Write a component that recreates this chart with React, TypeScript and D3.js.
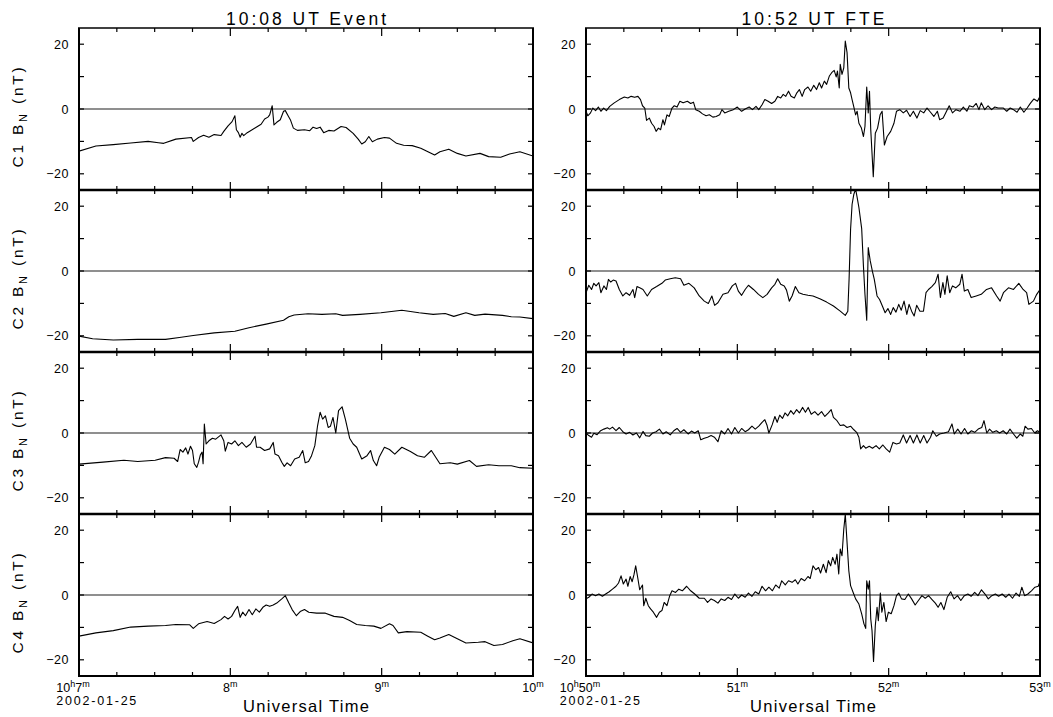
import { useEffect, useRef } from 'react';
import * as d3 from 'd3';

type Pt = [number, number];

// B_N (nT) against seconds after 10:07:00 UT
const c1Event: Pt[] = [
  [0, -13], [6.7, -11.4], [13.6, -11], [20.5, -10.5], [27.4, -10], [31.5, -10.4], [33.6, -10.6],
  [38.4, -9.3], [44.6, -8.8], [45.3, -10], [47.4, -8.8], [49.4, -8.1], [51.5, -8.7], [53.6, -7.9],
  [56.3, -8.2], [57.4, -6.9], [59.1, -5.2], [60.7, -3.9], [61.8, -2.1], [62.4, -6.4], [63.2, -7.3],
  [63.9, -8.7], [64.6, -7.5], [65.3, -8.2], [66.7, -7.3], [68, -6.7], [70.1, -5.7], [72.2, -4.7],
  [73.6, -3.1], [74.9, -2.5], [75.6, -1.8], [76.6, 1], [77.3, -4.9], [78.4, -4.1], [79.8, -3.3],
  [81.1, -0.7], [81.8, -0.5], [82.9, -2.1], [83.9, -3.5], [85, -5.9], [86.6, -6.6], [89.4, -6.4],
  [91.5, -6.7], [92.8, -5.6], [94.2, -6], [95.6, -5.6], [97, -7.3], [99, -6.6], [101.1, -6.8],
  [103.9, -5.4], [105.9, -5.7], [108.7, -7.5], [110.7, -9.3], [112.1, -10.8], [113.5, -10.1],
  [114.9, -8.5], [116.3, -10.1], [118.3, -9.3], [121.1, -8.8], [123.1, -9], [125.9, -10.6],
  [128.7, -11.2], [132.1, -11.3], [135.5, -12.1], [141, -14.2], [143.1, -13.2], [146.6, -12.4],
  [150, -13.7], [153.4, -14.5], [159, -13.7], [162.4, -14.7], [167.2, -14.9], [170.7, -13.9],
  [174.8, -13.2], [180, -14.5],
];

const c2Event: Pt[] = [
  [0, -20.1], [5.4, -20.9], [13.6, -21.3], [23.3, -21.1], [34.3, -21.1], [39.8, -20.5], [45.3, -19.9],
  [53.6, -19.1], [61.8, -18.6], [67.4, -17.5], [74.2, -16.4], [81.1, -15.2], [83.2, -14.1],
  [85.3, -13.6], [90.8, -13.2], [96.3, -13.4], [101.8, -13.2], [104.5, -13.7], [111.4, -13.4],
  [119.7, -12.9], [128, -12.1], [134.8, -12.9], [140.4, -13.4], [145.2, -13.1], [148.6, -14],
  [153.4, -12.9], [156.9, -13.7], [161, -13.3], [167.9, -13.7], [171.4, -14.1], [174.8, -14.2],
  [180, -14.7],
];

const c3Event: Pt[] = [
  [0, -9.6], [9.5, -9], [17.8, -8.4], [23.3, -8.8], [30.2, -8.4], [34.3, -7.6], [37.7, -7.8],
  [39.1, -8.8], [40.1, -5.1], [41.2, -5.9], [42.3, -4.6], [43.2, -6.5], [44.2, -4.1], [45, -5.4],
  [45.7, -9.5], [46.7, -10.6], [47.4, -9], [48.1, -6.8], [48.8, -5.9], [49.2, -9.5], [49.7, 2.8],
  [50.4, -3.4], [51.5, -2.4], [52.9, -1.6], [54.2, -1.9], [56.3, -0.6], [57.4, -2.4], [58, -5.6],
  [59.1, -2.9], [60.5, -3.4], [61.8, -2.4], [63.2, -3.9], [64.6, -2.9], [66.3, -4.4], [68, -3.4],
  [69.8, -1], [70.4, -4.4], [71.8, -4.4], [73.6, -5.4], [75.6, -4.9], [77, -2.9], [77.7, -6.5],
  [79.1, -7], [80.4, -9], [81.4, -10.3], [82.5, -9.2], [83.9, -10.1], [85.5, -8], [87.3, -7.5],
  [88.7, -5.4], [89.7, -9.2], [91, -8.8], [92.1, -7.2], [93.5, -3.9], [94.6, 2.3], [95.6, 6.4],
  [96.6, 4.3], [97.7, 5.3], [98.8, 1.7], [99.7, 2.1], [100.7, 4.8], [101.8, 0], [102.9, 6.9],
  [104.3, 8.1], [105.6, 4.3], [107.3, -1.6], [108.7, -3.4], [110.1, -4.4], [112.1, -8], [114.2, -7],
  [115.6, -5.4], [116.7, -8.5], [118, -10.1], [119, -7.5], [121.1, -4.4], [123.1, -5.1],
  [125.2, -6.5], [128, -4.4], [131.4, -5.7], [134.2, -7], [136.9, -7.5], [139.7, -5.4],
  [143.1, -9.5], [147.2, -9.2], [150, -9.6], [154.8, -8.5], [157.6, -10.3], [162.4, -9.8],
  [166.5, -10.1], [171.4, -10.1], [174.8, -10.7], [180, -10.9],
];

const c4Event: Pt[] = [
  [0, -12.7], [6.7, -11.7], [13.6, -11], [20.5, -9.9], [27.4, -9.6], [34.3, -9.4], [38.4, -9.1],
  [43.9, -9.2], [45.3, -10.3], [47.4, -8.9], [50.8, -8.2], [53.6, -8.8], [56.3, -7.6], [57.7, -6.6],
  [59.1, -7.4], [60.5, -6.6], [61.8, -4.8], [62.9, -3.5], [63.9, -6.9], [64.9, -5.3], [66, -6.4],
  [67.4, -4.5], [68.7, -6.1], [70.1, -4.3], [71.5, -5.3], [72.9, -3.8], [74.2, -3.1], [75.6, -3.5],
  [77, -3.1], [78.4, -2.5], [80.4, -1.2], [81.8, -0.2], [83.2, -2.5], [84.5, -4.5], [86.2, -6.4],
  [87.7, -5.1], [89.4, -4.5], [91.1, -5.3], [94.2, -5.6], [97.7, -5.6], [101.1, -6.6], [104.5, -6.9],
  [107.3, -7.9], [110.1, -9.1], [113.5, -9.4], [116.9, -9.6], [119.7, -10.3], [123.1, -8.9],
  [124.5, -9.4], [126.6, -11.7], [130, -11.3], [135.5, -11.5], [138.3, -12.7], [141, -13.8],
  [143.1, -13.3], [146.6, -12.2], [150, -13.5], [153.4, -14.8], [158.3, -14.6], [161, -14.4],
  [164.5, -15.6], [167.9, -15.3], [172, -14.1], [174.8, -13.5], [180, -14.8],
];

// B_N (nT) against seconds after 10:50:00 UT
const c1Fte: Pt[] = [
  [0, -0.7], [0.7, -2.1], [1.8, -1.2], [2.7, 0.3], [3.8, -0.5], [4.9, 0.6], [5.9, -0.7], [7, 0.3],
  [8.1, -0.5], [9.4, 0.8], [11.2, 1.9], [13.2, 2.9], [15.2, 3.7], [16.6, 3.4], [17.9, 3.9],
  [19.3, 3.6], [20.6, 3.9], [21.6, 2.9], [22.4, 1], [23.3, 0.3], [24, -3.5], [25.1, -2.8],
  [26, -4.4], [27, -5.4], [27.8, -6.9], [28.7, -5.9], [29.6, -6.4], [30.5, -3.3], [31.1, -4.9],
  [32.1, -1.8], [33, -2.3], [34.1, 0.3], [35, 1], [36.1, 0.6], [37.2, 2.4], [38.5, 1.9], [40.2, 2.4],
  [41.5, 1.7], [42.6, 2.1], [43.5, -0.2], [44.9, -0.7], [46.2, -1.5], [47.6, -2.1], [48.9, -1.8],
  [50.3, -2.5], [51.6, -2.3], [53, -1.8], [53.9, -0.2], [55, -1.2], [56.6, -0.7], [58.4, -0.2],
  [60, 0.6], [61.7, -0.7], [63.1, 0], [64.7, 0.6], [66, -0.2], [67.4, 0.8], [68.5, -0.2], [69.8, 1.3],
  [70.9, 2.9], [72.2, 2.4], [73.6, 1.7], [74.9, 2.4], [76, 3.9], [77.2, 3.4], [78.2, 4.5], [79.2, 3.9],
  [80.3, 5.5], [81.3, 3.9], [82.6, 3.4], [83.6, 5], [84.6, 6], [85.7, 3.9], [86.7, 6], [88, 6.8],
  [89.1, 5.5], [90.3, 7.3], [91.4, 6], [92.5, 8.1], [93.4, 6.5], [94.5, 8.6], [95.4, 7.6],
  [96.5, 10.2], [97.4, 11.2], [98.4, 11.9], [99.2, 9.9], [99.7, 11.7], [100.4, 6.5], [100.8, 13.8],
  [101.5, 10.7], [102.2, 12.7], [102.8, 21], [103.5, 17.4], [104.2, 6.5], [104.9, 5], [105.5, 2.9],
  [106.2, 0.6], [106.9, -1.8], [107.5, -0.7], [108.2, -4.4], [109.2, -5.9], [110, -8.5],
  [110.6, -5.4], [111.3, 6.8], [111.9, -1.2], [112.4, 5.5], [112.9, -6.4], [113.9, -20.9],
  [114.7, -7.5], [115.6, -5.9], [116.6, -1.8], [117.4, -0.7], [118.3, -11.1], [119.4, -8.5],
  [120.8, -6.9], [122.1, -4.4], [123.1, -0.7], [124.4, -0.2], [125.8, -1.2], [127.1, -0.4],
  [128.5, -2.3], [129.8, -0.7], [131.2, -2.8], [132.5, -0.5], [133.9, -1.2], [135.2, 0.3],
  [136.6, -1], [137.9, -2.3], [139.3, -0.7], [140.2, -3.3], [141.6, -2.8], [142.6, -1.2], [144, 1],
  [145.3, -1.2], [146.7, -0.2], [148.3, -0.7], [149.6, 0.6], [151, -0.7], [152, 1], [153.4, 0.6],
  [154.7, 1.7], [155.8, -0.2], [156.7, 1.9], [158.1, -0.2], [159.4, 1], [160.8, -0.2], [162.1, 0.6],
  [163.4, 0.3], [165.5, 0.3], [166.8, -0.7], [168.2, 0.3], [169.5, -0.2], [170.9, -1], [172.2, 0.6],
  [173.6, -1], [174.9, 0.3], [176.3, 1.9], [177.6, 3.1], [179, 2.4], [180, 3.9],
];

const c2Fte: Pt[] = [
  [0, -6.7], [1.1, -4.4], [2.2, -5.7], [3.1, -3.8], [4, -4.6], [5.1, -3.6], [5.9, -6.7], [7.1, -4.6],
  [8.1, -5.7], [8.9, -2.6], [9.8, -3.4], [10.8, -2.8], [11.9, -3.1], [13.2, -5.7], [14.6, -7.7],
  [15.9, -6.7], [17.3, -7.5], [18.6, -5.7], [19.3, -8.2], [20.2, -4.8], [21.3, -5.2], [22.6, -5.7],
  [24.3, -7.7], [26, -5.7], [28, -4.8], [30.1, -3.8], [31.4, -2.8], [33.4, -2.4], [35.4, -2.1],
  [37.5, -2.4], [38.8, -4.4], [40.8, -3.8], [42.9, -5.2], [44.9, -7.7], [46.9, -9.3], [48.5, -10],
  [49.9, -7.7], [51, -10.6], [52.3, -9.8], [54.3, -7.2], [56.3, -6.7], [58, -4.6], [59.3, -3.8],
  [60.4, -6.2], [61.7, -7.5], [63.1, -5.7], [64.4, -4.4], [66.4, -5.7], [68.4, -7.2], [70.1, -8.2],
  [71.8, -7.2], [73.6, -5.2], [74.9, -4.1], [76, -2.4], [77.2, -4.1], [78.6, -4.6], [79.5, -5.9],
  [80.6, -9.3], [81.7, -7.7], [83, -4.8], [84.4, -6.7], [86, -7.2], [88, -7.5], [90, -7.7],
  [92.7, -8.6], [95.4, -9.6], [98.1, -10.8], [100.8, -12.4], [102.8, -13.7], [103.8, -12.4],
  [104.3, -2.6], [104.9, 12.9], [105.5, 20.6], [106.2, 23.7], [106.9, 25.3], [107.5, 22.7],
  [108.2, 19.6], [109.3, 13.1], [110, 1.5], [110.6, -7.2], [111.3, -15.2], [111.9, 7.2], [112.7, 3.1],
  [113.6, -0.3], [114.3, -2.6], [115.4, -7.7], [116.4, -8.8], [117.5, -10.8], [118.6, -12.9],
  [119.7, -11.6], [120.8, -13.4], [121.8, -11.3], [122.9, -12.7], [124, -10.3], [125, -12.1],
  [126.1, -9.3], [127.2, -13.4], [128.1, -10.3], [129.1, -12.4], [130.1, -13.9], [131.1, -10.6],
  [132.4, -12.4], [133.8, -12.4], [134.8, -6.7], [135.8, -5.7], [137.1, -4.8], [138.5, -3.6],
  [139.6, -1], [140.5, -8.2], [141.5, -3.6], [142.3, -7.2], [143.2, -1.5], [144.2, -6.7],
  [145.3, -4.6], [146.6, -5.2], [148.2, -4.1], [149.1, -1], [150, -6.2], [151.4, -5.7], [152.7, -8.2],
  [154.7, -7.7], [156.7, -7.2], [158.8, -5.7], [160.8, -5.2], [162.8, -7.7], [164.2, -9.3],
  [165.5, -6.7], [167.5, -5.2], [169.5, -5.7], [171.6, -3.8], [173.3, -5.7], [174.7, -6.7],
  [175.6, -10.3], [177.4, -9.3], [178.7, -7.2], [180, -5.7],
];

const c3Fte: Pt[] = [
  [0, 0], [1.1, -0.8], [2.2, -1.3], [3.1, -0.1], [4.4, -0.5], [5.8, 0.7], [7.1, 1.2], [8.5, 1.6],
  [9.4, 1.2], [10.5, 1.8], [11.9, 0.7], [13.2, 1.7], [14.6, 0.4], [15.9, -0.3], [17.3, 0.2],
  [18.6, -0.6], [20, 0], [21.3, -1.5], [22.6, 0.5], [23.7, -0.8], [25.1, -1], [26.4, 0], [27.8, 0.4],
  [29.1, 1.2], [30.5, -0.3], [31.8, 0.4], [33.4, -0.6], [34.8, 0.7], [36.1, 1.4], [37.5, 0.2],
  [38.8, 1], [40.5, -0.3], [41.8, 0.6], [43.1, 0], [44.5, 0.7], [45.5, -2.1], [46.9, -1.6],
  [48.2, -1.3], [49.6, -0.8], [50.9, -1.3], [52.3, -2.7], [53.6, 0.7], [55, -0.3], [56.3, 1.4],
  [57.7, -0.3], [59, 1.7], [60.4, 0], [61.7, 1.4], [63.1, 0.4], [64.4, 1], [65.8, 2.1], [67.1, 1.2],
  [68.5, 2.1], [69.8, 3.3], [70.9, 4.1], [71.8, 2.3], [72.5, 0], [73.8, 2.5], [74.9, 5.1], [75.8, 3.3],
  [76.8, 5.5], [77.9, 4.5], [78.9, 6.2], [80, 5.3], [81.2, 6.9], [82.3, 5.8], [83.5, 7.2], [84.6, 6.2],
  [85.9, 7.9], [87, 6.4], [88.1, 7.9], [89.3, 5.8], [90.7, 6.6], [92, 5.5], [93.4, 6.6], [94.7, 5.1],
  [96.1, 6.2], [97.2, 7.2], [98.1, 4.8], [99.5, 3.8], [100.8, 2.3], [102.2, 2.5], [103.5, 1.7],
  [104.9, 2.1], [106.2, 1], [107.3, 0.2], [108.2, -1.3], [108.9, -4.9], [110, -3.9], [110.9, -4.7],
  [112.3, -4.1], [113.6, -4.7], [115, -3.9], [116.3, -4.9], [117.7, -3.7], [119, -4.9], [120.4, -5.9],
  [121.7, -2.9], [123.1, -3.4], [124.4, -3.1], [125.8, -0.6], [127.1, -3.1], [128.5, -0.8],
  [129.8, -3.1], [131.2, -0.6], [132.5, -3.1], [133.9, -0.8], [135.2, -3.1], [136.6, -1.3],
  [137.5, 0.7], [138.9, -1], [140.2, -0.3], [142, 0], [143.7, 0.4], [145.1, 2.8], [146, -0.3],
  [147.4, 1.2], [148.7, -0.3], [150.1, 1.4], [151.4, -0.3], [152.8, 0.7], [154.1, 0.2], [155.5, 1.2],
  [156.9, 1.7], [157.8, 3.8], [158.9, 0], [160, 1.2], [161.3, 0.2], [162.7, 0.7], [164, 0],
  [165.4, 0.7], [166.8, -0.3], [168.1, 1.2], [169.5, -0.3], [170.8, -1.6], [172.2, -0.3], [173.2, -1],
  [174.1, 2.1], [175.2, 1.2], [176.6, 1.4], [177.9, 0], [179, 0.7], [180, 0.2],
];

const c4Fte: Pt[] = [
  [0, -1.2], [1.1, -0.7], [2.4, 0.3], [3.8, -0.2], [5.1, 0.3], [6.5, -0.4], [7.8, 0.3], [9.2, 1],
  [10.5, 1.8], [11.9, 2.7], [12.9, 3.7], [13.9, 5.9], [14.8, 3.4], [15.9, 4.9], [16.6, 2.7],
  [17.5, 5.7], [18.3, 4.1], [19, 6.2], [19.7, 9], [20.5, 5.4], [21.3, 1.6], [22.4, 3.1], [22.9, -3.3],
  [23.7, -1], [24.7, -3.3], [25.6, -4.3], [26.7, -5.3], [28, -6.9], [29.1, -5.3], [30.1, -4.8],
  [31, -2.3], [32.1, -3.3], [33.2, -0.2], [34.1, 1.3], [35.5, 0.8], [36.8, 1.8], [38.2, 1.3],
  [39.9, 2.7], [41.5, 1.3], [43.1, 0.3], [44.9, -1], [46.9, -1], [48.2, -2.3], [49.6, -1.2],
  [50.9, -1.7], [52.3, -2.5], [53.6, -1.2], [55, -1.7], [56.3, -0.7], [57.7, -1.4], [59, 0.3],
  [60.4, -1], [61.7, 0], [63.1, -0.7], [64.4, 0.6], [65.8, -0.4], [67.1, 1], [68.5, 0.3], [69.8, 2.7],
  [71.2, 1.3], [72.5, 2.4], [73.9, 1.3], [75.2, 3.1], [76.6, 2.1], [77.6, 4.4], [79, 3.1], [80.3, 4.4],
  [81.7, 3.9], [83, 4.7], [84, 3.4], [85.3, 5.1], [86.7, 4.4], [88, 5.7], [88.9, 5.1], [90, 9],
  [91.1, 7.8], [92.2, 8.5], [93, 6.8], [94.1, 9.5], [95.2, 6.9], [96.1, 10.6], [97, 9], [97.8, 11.6],
  [98.8, 9.5], [99.5, 12.6], [100.2, 6.5], [100.8, 14.2], [101.5, 12.1], [102.2, 20.3], [102.8, 24.9],
  [103.5, 16.2], [104.2, 7.5], [104.9, 2.9], [106, 0.6], [106.9, -1.2], [108.2, -2.8], [109.3, -5.8],
  [110.2, -8.9], [110.9, -10.3], [111.3, 4.4], [111.9, 1.8], [112.4, 4.4], [112.9, -7.4],
  [113.4, -11], [114, -20.5], [114.7, -9.4], [115.4, -3.8], [115.9, -7.9], [116.7, 0.6], [117.3, -5.3],
  [118.1, -2.3], [119, -8.2], [119.9, -5.3], [121, -5.8], [122.1, -3.3], [123.1, -0.2], [124, 0.6],
  [125.1, -1.2], [126.4, -1.4], [127.8, 0.3], [129.1, -1.2], [130.5, -3.1], [131.8, -1.7],
  [133.2, -0.2], [134.5, -1], [135.8, -0.2], [137.2, -1.4], [138.5, -2.5], [139.6, -3.8],
  [140.7, -2.3], [141.9, -4.5], [143.2, -0.7], [144.6, 1], [145.9, -1.2], [147.3, -0.2], [148.6, -1.7],
  [150, -0.2], [151.4, 0.3], [152.7, -0.4], [154.1, 0.8], [155.4, -0.2], [156.8, 1.6], [158.2, 0.3],
  [159.5, -1.2], [160.9, -0.2], [162.3, 0.3], [163.6, -0.4], [165, 0.3], [166.4, -0.7], [167.7, 0.3],
  [169.1, -1], [170.5, 0.6], [171.8, -0.4], [172.8, 2.4], [173.9, -0.2], [175.2, 0.3], [176.6, 1.3],
  [178, 2.4], [179.3, 2.7], [180, 4.1],
];

const spacecraft = ['C1', 'C2', 'C3', 'C4'];
const titles = ['10:08 UT Event', '10:52 UT FTE'];
const startHour = '10';
const eventMinutes = ['7', '8', '9', '10'];
const fteMinutes = ['50', '51', '52', '53'];
const dateLabel = '2002-01-25';
const xTitle = 'Universal Time';
const yTicks = [-20, -10, 0, 10, 20];
const yLabelTicks = [-20, 0, 20];

const FONT = "'Liberation Sans', Arial, Helvetica, sans-serif";

export default function App() {
  const ref = useRef<SVGSVGElement | null>(null);

  useEffect(() => {
    document.body.style.margin = '0';
    const svg = d3.select(ref.current);
    svg.selectAll('*').remove();

    const top = 28;
    const rowH = 162;
    const columns = [
      { x0: 79, x1: 533, title: titles[0], minutes: eventMinutes, series: [c1Event, c2Event, c3Event, c4Event] },
      { x0: 586, x1: 1040, title: titles[1], minutes: fteMinutes, series: [c1Fte, c2Fte, c3Fte, c4Fte] },
    ];
    const bottom = top + rowH * spacecraft.length;

    columns.forEach((col, ci) => {
      const x = d3.scaleLinear().domain([0, 180]).range([col.x0, col.x1]);
      const cx = (col.x0 + col.x1) / 2;

      // column title
      svg
        .append('text')
        .attr('x', cx)
        .attr('y', 25)
        .attr('text-anchor', 'middle')
        .attr('font-family', FONT)
        .attr('font-size', 17.5)
        .attr('textLength', ci === 0 ? 160 : 143)
        .attr('lengthAdjust', 'spacing')
        .text(col.title);

      spacecraft.forEach((sc, ri) => {
        const y0 = top + ri * rowH;
        const y = d3.scaleLinear().domain([-25, 25]).range([y0 + rowH, y0]);
        const g = svg.append('g');

        const clipId = `clip-${ci}-${ri}`;
        svg
          .append('clipPath')
          .attr('id', clipId)
          .append('rect')
          .attr('x', col.x0)
          .attr('y', y0)
          .attr('width', col.x1 - col.x0)
          .attr('height', rowH);

        // zero line
        g.append('line')
          .attr('x1', col.x0)
          .attr('x2', col.x1)
          .attr('y1', y(0))
          .attr('y2', y(0))
          .attr('stroke', '#6a6a6a')
          .attr('stroke-width', 1.5);

        const line = d3
          .line<Pt>()
          .x((d) => x(d[0]))
          .y((d) => y(d[1]));

        g.append('path')
          .datum(col.series[ri])
          .attr('d', line)
          .attr('fill', 'none')
          .attr('stroke', '#000')
          .attr('stroke-width', 1.1)
          .attr('stroke-linejoin', 'round')
          .attr('clip-path', `url(#${clipId})`);

        // x ticks (inward, top and bottom)
        d3.range(0, 181, 15).forEach((t) => {
          const len = t % 60 === 0 ? 8 : 4;
          [
            [y0, y0 + len],
            [y0 + rowH, y0 + rowH - len],
          ].forEach(([a, b]) => {
            g.append('line')
              .attr('x1', x(t))
              .attr('x2', x(t))
              .attr('y1', a)
              .attr('y2', b)
              .attr('stroke', '#000')
              .attr('stroke-width', 1.2);
          });
        });

        // y ticks (inward, left and right)
        yTicks.forEach((v) => {
          [
            [col.x0, col.x0 + 5],
            [col.x1, col.x1 - 5],
          ].forEach(([a, b]) => {
            g.append('line')
              .attr('x1', a)
              .attr('x2', b)
              .attr('y1', y(v))
              .attr('y2', y(v))
              .attr('stroke', '#000')
              .attr('stroke-width', 1.2);
          });
        });

        yLabelTicks.forEach((v) => {
          g.append('text')
            .attr('x', col.x0 - 10)
            .attr('y', y(v) + 4.5)
            .attr('text-anchor', 'end')
            .attr('font-family', FONT)
            .attr('font-size', 12.5)
            .attr('letter-spacing', 0.5)
            .text(v < 0 ? `\u2212${Math.abs(v)}` : `${v}`);
        });

        // y axis title: "C1 B_N (nT)", left column only
        if (ci === 0) {
          const lbl = g
            .append('text')
            .attr('transform', `translate(${col.x0 - 56},${y0 + rowH / 2 + 7}) rotate(-90)`)
            .attr('text-anchor', 'middle')
            .attr('font-family', FONT)
            .attr('font-size', 15.5)
            .attr('letter-spacing', 2.8);
          lbl.append('tspan').text(`${sc} B`);
          lbl.append('tspan').attr('dy', 4).attr('font-size', 11).text('N');
          lbl.append('tspan').attr('dy', -4).text(' (nT)');
        }

        // horizontal borders
        g.append('line')
          .attr('x1', col.x0 - 1)
          .attr('x2', col.x1 + 1)
          .attr('y1', y0)
          .attr('y2', y0)
          .attr('stroke', '#000')
          .attr('stroke-width', ri === 0 ? 1.3 : 2.6);
      });

      // outer frame
      svg
        .append('line')
        .attr('x1', col.x0 - 1)
        .attr('x2', col.x1 + 1)
        .attr('y1', bottom)
        .attr('y2', bottom)
        .attr('stroke', '#000')
        .attr('stroke-width', 2);
      [col.x0, col.x1].forEach((xx) => {
        svg
          .append('line')
          .attr('x1', xx)
          .attr('x2', xx)
          .attr('y1', top)
          .attr('y2', bottom)
          .attr('stroke', '#000')
          .attr('stroke-width', 2);
      });

      // x tick labels
      col.minutes.forEach((m, i) => {
        const tx = x(i * 60);
        const t = svg
          .append('text')
          .attr('x', i === 0 ? tx - 6 : tx)
          .attr('y', 692)
          .attr('text-anchor', 'middle')
          .attr('font-family', FONT)
          .attr('font-size', 12.5);
        if (i === 0) {
          t.append('tspan').text(startHour);
          t.append('tspan').attr('dy', -5).attr('font-size', 9).text('h');
          t.append('tspan').attr('dy', 5).text(m);
        } else {
          t.append('tspan').text(m);
        }
        t.append('tspan').attr('dy', -5).attr('font-size', 9).text('m');

        if (i === 0) {
          const bb = (t.node() as SVGTextElement).getBBox();
          svg
            .append('text')
            .attr('x', bb.x)
            .attr('y', 705)
            .attr('font-family', FONT)
            .attr('font-size', 12.5)
            .attr('textLength', 80)
            .attr('lengthAdjust', 'spacing')
            .text(dateLabel);
        }
      });

      svg
        .append('text')
        .attr('x', cx)
        .attr('y', 712)
        .attr('text-anchor', 'middle')
        .attr('font-family', FONT)
        .attr('font-size', 16.5)
        .attr('textLength', 126)
        .attr('lengthAdjust', 'spacing')
        .text(xTitle);
    });
  }, []);

  return (
    <svg
      ref={ref}
      width={1053}
      height={717}
      style={{ display: 'block', background: '#fff' }}
    />
  );
}
